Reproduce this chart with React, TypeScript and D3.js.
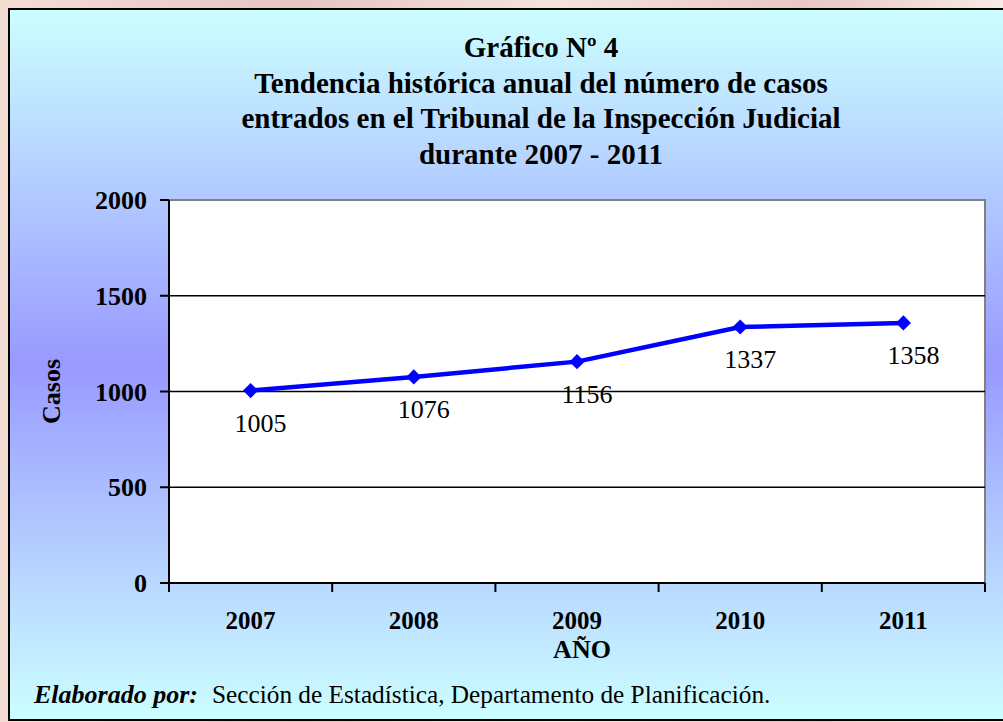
import React from 'react';
import * as d3 from 'd3';

const years = ['2007', '2008', '2009', '2010', '2011'];
const casos = [1005, 1076, 1156, 1337, 1358];
const yTicks = [0, 500, 1000, 1500, 2000];
const titleLines = [
  'Gráfico Nº 4',
  'Tendencia histórica anual del número de casos',
  'entrados en el Tribunal de la Inspección Judicial',
  'durante 2007 - 2011',
];

const W = 1003;
const H = 722;
const plot = { left: 169, right: 985, top: 200, bottom: 583 };
const serif = '"Liberation Serif", "Times New Roman", serif';

export default function App() {
  const x = d3.scaleBand().domain(years).range([plot.left, plot.right]);
  const y = d3.scaleLinear().domain([0, 2000]).range([plot.bottom, plot.top]);

  const line = d3.line<number>()
    .x((_, i) => x(years[i])! + x.bandwidth() / 2)
    .y(d => y(d));

  const diamond = d3.symbol().type(d3.symbolSquare).size(115)();
  const bounds = years.map(yr => x(yr)!).concat([plot.right]);

  return (
    <svg width={W} height={H} style={{ position: 'absolute', left: 0, top: 0, display: 'block' }}
      fontFamily={serif}>
      <defs>
        <linearGradient id="bg" x1="0" y1="0" x2="0" y2="1">
          <stop offset="0" stopColor="#ccffff" />
          <stop offset="0.5" stopColor="#9999ff" />
          <stop offset="1" stopColor="#ccffff" />
        </linearGradient>
        <linearGradient id="outer" x1="0" y1="0" x2="1" y2="0">
          <stop offset="0" stopColor="#f3ddd3" />
          <stop offset="0.3" stopColor="#e6c4c4" />
          <stop offset="0.55" stopColor="#f4e4dc" />
          <stop offset="0.8" stopColor="#e8c6c4" />
          <stop offset="1" stopColor="#f6ebe6" />
        </linearGradient>
      </defs>

      <rect x={0} y={0} width={W} height={H} fill="url(#outer)" />
      <rect x={9} y={9} width={W + 10} height={711} fill="url(#bg)" stroke="#000" strokeWidth={2} />

      {titleLines.map((t, i) => (
        <text key={i} x={541} y={57 + i * 35.7} textAnchor="middle" fontWeight="bold" fontSize={29}>{t}</text>
      ))}

      <rect x={plot.left} y={plot.top} width={plot.right - plot.left} height={plot.bottom - plot.top}
        fill="#fff" stroke="#808080" strokeWidth={2} />

      {yTicks.filter(v => v > 0 && v < 2000).map(v => (
        <line key={v} x1={plot.left} x2={plot.right} y1={y(v)} y2={y(v)} stroke="#000" strokeWidth={1.5} />
      ))}

      <line x1={plot.left} x2={plot.left} y1={plot.top} y2={plot.bottom} stroke="#000" strokeWidth={2} />
      <line x1={plot.left} x2={plot.right} y1={plot.bottom} y2={plot.bottom} stroke="#000" strokeWidth={2} />

      {yTicks.map(v => (
        <g key={v}>
          <line x1={plot.left - 9} x2={plot.left} y1={y(v)} y2={y(v)} stroke="#000" strokeWidth={2} />
          <text x={147} y={y(v)} dy="0.35em" textAnchor="end" fontWeight="bold" fontSize={26}>{v}</text>
        </g>
      ))}

      {bounds.map((bx, i) => (
        <line key={i} x1={bx} x2={bx} y1={plot.bottom} y2={plot.bottom + 9} stroke="#000" strokeWidth={2} />
      ))}

      {years.map(yr => (
        <text key={yr} x={x(yr)! + x.bandwidth() / 2} y={629} textAnchor="middle" fontWeight="bold" fontSize={25}>{yr}</text>
      ))}

      <text x={582} y={658} textAnchor="middle" fontWeight="bold" fontSize={26}>AÑO</text>
      <text transform={`translate(60,${(plot.top + plot.bottom) / 2}) rotate(-90)`} textAnchor="middle"
        fontWeight="bold" fontSize={26}>Casos</text>

      <path d={line(casos) ?? ''} fill="none" stroke="#0000ff" strokeWidth={4.5} strokeLinejoin="round" />
      {casos.map((v, i) => {
        const cx = x(years[i])! + x.bandwidth() / 2;
        return (
          <g key={i}>
            <path d={diamond} transform={`translate(${cx},${y(v)}) rotate(45)`} fill="#0000ff" />
            <text x={cx + 10} y={y(v) + 41} textAnchor="middle" fontSize={26}>{v}</text>
          </g>
        );
      })}

      <text x={34} y={703} fontSize={26}>
        <tspan fontWeight="bold" fontStyle="italic">Elaborado por:</tspan>
        <tspan dx={14} fontSize={25.3}>Sección de Estadística, Departamento de Planificación.</tspan>
      </text>
    </svg>
  );
}
